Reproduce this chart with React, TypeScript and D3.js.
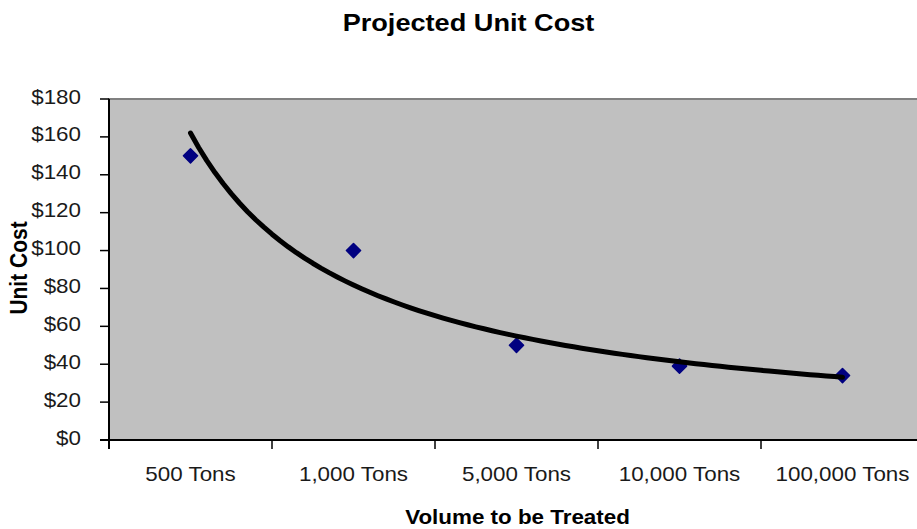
import React from "react";
import * as d3 from "d3";

const categories: string[] = ["500 Tons", "1,000 Tons", "5,000 Tons", "10,000 Tons", "100,000 Tons"];
const unitCost: number[] = [150, 100, 50, 39, 34];
const yTicks: number[] = [0, 20, 40, 60, 80, 100, 120, 140, 160, 180];
const title = "Projected Unit Cost";
const xTitle = "Volume to be Treated";
const yTitle = "Unit Cost";

const W = 917;
const H = 529;
const FONT = "'Liberation Sans', Arial, sans-serif";
const SX = 1.12;

// power trendline fit y = a * x^b (x = 1..n)
function powerFit(vals: number[]) {
  const xs = vals.map((_, i) => Math.log(i + 1));
  const ys = vals.map((v) => Math.log(v));
  const mx = d3.mean(xs)!;
  const my = d3.mean(ys)!;
  let sxy = 0, sxx = 0;
  xs.forEach((x, i) => {
    sxy += (x - mx) * (ys[i] - my);
    sxx += (x - mx) * (x - mx);
  });
  const b = sxy / sxx;
  const a = Math.exp(my - b * mx);
  return (x: number) => a * Math.pow(x, b);
}

export default function App() {
  const left = 109;
  const step = 163;
  const top = 99;
  const bottom = 440;

  const x = d3.scaleBand<string>().domain(categories).range([left, left + step * categories.length]).padding(0);
  const y = d3.scaleLinear().domain([0, 180]).range([bottom, top]);
  const bw = x.bandwidth();
  const cx = (c: string) => (x(c) as number) + bw / 2;

  const fit = powerFit(unitCost);
  const xi = d3.scaleLinear().domain([1, categories.length]).range([cx(categories[0]), cx(categories[categories.length - 1])]);
  const samples = d3.range(1, categories.length + 0.0001, 0.05);
  const line = d3.line<number>().x((t) => xi(t)).y((t) => y(fit(t))).curve(d3.curveLinear);

  const diamond = d3.symbol().type(d3.symbolSquare).size(100)();

  return (
    <svg width={W} height={H} style={{ position: "absolute", left: 0, top: 0, background: "#fff" }}>
      <text transform={`translate(468.5,31) scale(1.18,1)`} textAnchor="middle" fontFamily={FONT} fontWeight="bold" fontSize={23} fill="#000">
        {title}
      </text>

      <rect x={left} y={top} width={step * categories.length} height={bottom - top} fill="#C0C0C0" stroke="#808080" strokeWidth={2} />

      {/* y axis */}
      <line x1={left} x2={left} y1={top} y2={bottom + 9} stroke="#000" strokeWidth={2} />
      {yTicks.map((t) => (
        <g key={t}>
          <line x1={left - 9} x2={left} y1={y(t)} y2={y(t)} stroke="#000" strokeWidth={1.5} />
          <text transform={`translate(81,${y(t) + 4.5}) scale(${SX},1)`} textAnchor="end" fontFamily={FONT} fontSize={20} fill="#1a1a1a">
            {`$${t}`}
          </text>
        </g>
      ))}

      {/* x axis */}
      <line x1={left - 9} x2={W} y1={bottom} y2={bottom} stroke="#000" strokeWidth={2} />
      {categories.map((c) => (
        <g key={c}>
          <line x1={x(c) as number} x2={x(c) as number} y1={bottom} y2={bottom + 9} stroke="#000" strokeWidth={1.5} />
          <text transform={`translate(${cx(c)},481) scale(${SX},1)`} textAnchor="middle" fontFamily={FONT} fontSize={20} fill="#1a1a1a">
            {c}
          </text>
        </g>
      ))}

      {/* data points */}
      {categories.map((c, i) => (
        <path key={c} d={diamond as string} transform={`translate(${cx(c)},${y(unitCost[i])}) rotate(45)`} fill="#000080" stroke="#000080" strokeWidth={1.5} strokeLinejoin="round" />
      ))}

      {/* power trendline */}
      <path d={line(samples) as string} fill="none" stroke="#000" strokeWidth={5} strokeLinecap="round" strokeLinejoin="round" />

      <text transform={`translate(517.5,524) scale(${SX},1)`} textAnchor="middle" fontFamily={FONT} fontWeight="bold" fontSize={20} fill="#000">
        {xTitle}
      </text>
      <text transform={`translate(27,268) scale(${SX},1) rotate(-90)`} textAnchor="middle" fontFamily={FONT} fontWeight="bold" fontSize={21} fill="#000">
        {yTitle}
      </text>
    </svg>
  );
}
